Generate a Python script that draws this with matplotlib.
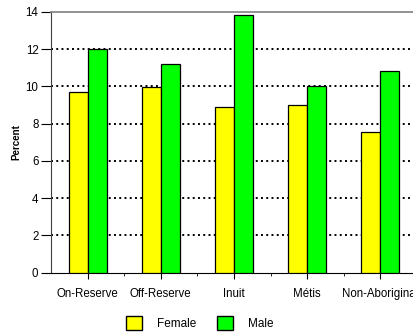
import matplotlib
matplotlib.use("Agg")
import matplotlib.pyplot as plt
import numpy as np
from matplotlib.patches import Patch

plt.rcParams['font.family'] = ['Liberation Sans', 'DejaVu Sans']

categories = ["On-Reserve", "Off-Reserve", "Inuit", "Métis", "Non-Aboriginal"]
female = [9.7, 9.95, 8.9, 9.0, 7.55]
male = [12.0, 11.2, 13.85, 10.0, 10.85]
yticks = [0, 2, 4, 6, 8, 10, 12, 14]

fig = plt.figure(figsize=(4.14, 3.33), dpi=100)
# axes run past the right edge of the figure, clipping the last label
ax = fig.add_axes([51/414, 1 - 272.5/333, 366/414, 260.5/333])

x = np.arange(len(categories))
w = 0.26
ax.bar(x - w/2, female, width=w, color="#ffff00", edgecolor="black", linewidth=0.9, zorder=3)
ax.bar(x + w/2, male, width=w, color="#00ff00", edgecolor="black", linewidth=0.9, zorder=3)

ax.set_xlim(-0.5, len(categories) - 0.5)
ax.set_ylim(0, 14)
ax.set_yticks(yticks)
ax.set_xticks(x)
ax.set_xticklabels(categories, fontsize=8.3)
ax.set_xticks(np.arange(len(categories)) + 0.5, minor=True)
ax.tick_params(axis='x', which='minor', length=2, direction='out')
ax.tick_params(axis='x', which='major', length=4, direction='out', pad=7)
ax.tick_params(axis='y', length=7, direction='out', labelsize=8.3, pad=2)

for v in yticks[1:-1]:
    ax.axhline(v, color="black", linestyle=(0, (1.0, 1.7)), linewidth=1.4, zorder=1)

ax.spines['top'].set_color('#808080')
ax.spines['top'].set_linewidth(1.2)
ax.spines['right'].set_visible(False)
ax.spines['left'].set_color('#404040')
ax.spines['bottom'].set_color('black')

fig.text(16.5/414, 1 - 142/333, "Percent", rotation=90, fontsize=7, fontweight='bold',
         ha='center', va='center')

handles = [Patch(facecolor="#ffff00", edgecolor="black"),
           Patch(facecolor="#00ff00", edgecolor="black")]
fig.legend(handles, ["Female", "Male"], loc='center', bbox_to_anchor=(200/414, 1 - 323/333),
           ncol=2, frameon=False, fontsize=8.5, handlelength=1.36, handleheight=1.36,
           columnspacing=1.78, handletextpad=1.27, borderpad=0, borderaxespad=0)

fig.savefig("out.png", dpi=100)
